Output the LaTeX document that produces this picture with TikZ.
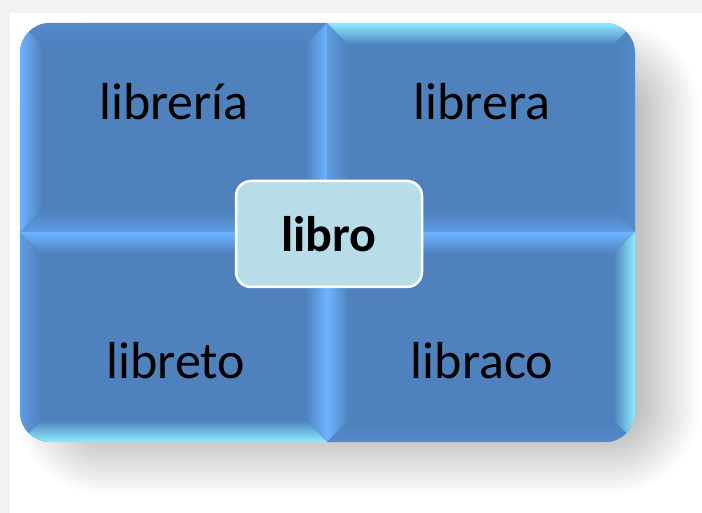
\documentclass[tikz,border=0pt]{standalone}
\usepackage{fontspec}
\setmainfont{Carlito}
\definecolor{base}{HTML}{4F81BD}
\definecolor{bcyan}{HTML}{8EEBFF}
\definecolor{blight}{HTML}{6DB3FF}
\definecolor{bmed}{HTML}{5E9BE2}
\definecolor{bweak}{HTML}{5589CB}
\definecolor{libfill}{HTML}{B7DDE8}
\definecolor{bggray}{HTML}{F2F2F2}
\newcommand\bevq[8]{%
  \fill[base] (#1,#2) rectangle (#3,#4);
  \shade[left color=#5,right color=base] (#1,#2) -- (#1+22,#2+22) -- (#1+22,#4-22) -- (#1,#4) -- cycle;
  \shade[top color=#6,bottom color=base] (#1,#2) -- (#3,#2) -- (#3-22,#2+22) -- (#1+22,#2+22) -- cycle;
  \shade[left color=base,right color=#7] (#3,#2) -- (#3,#4) -- (#3-22,#4-22) -- (#3-22,#2+22) -- cycle;
  \shade[top color=base,bottom color=#8] (#1,#4) -- (#3,#4) -- (#3-22,#4-22) -- (#1+22,#4-22) -- cycle;
}
\tikzset{
  quadlabel/.style={font=\fontsize{52}{62}\selectfont, text=black, inner sep=0pt},
  centerbox/.style={draw=white, line width=2.5pt, fill=libfill, rounded corners=15pt,
     minimum width=186pt, minimum height=106pt, font=\fontsize{50}{60}\selectfont\bfseries, text=black},
  shadowlayer/.style={fill=black, fill opacity=0.0048}
}
\begin{document}
\begin{tikzpicture}[x=1pt,y=-1pt]
\useasboundingbox (0,0) rectangle (702,513);
\fill[bggray] (0,0) rectangle (702,513);
\fill[white] (10,13) rectangle (702,513);
% soft shadow
\foreach \i in {0,...,70}{
  \fill[shadowlayer, rounded corners={20+\i}] (85-\i,90-\i) rectangle (630+\i,425+\i);
}
\begin{scope}
  \clip[rounded corners=30pt] (20,23) rectangle (635,442);
  \bevq{20}{23}{327}{232}{blight}{bweak}{blight}{bmed}
  \bevq{327}{23}{635}{232}{bmed}{bcyan}{bweak}{bmed}
  \bevq{20}{232}{327}{442}{bmed}{blight}{blight}{bcyan}
  \bevq{327}{232}{635}{442}{blight}{blight}{bcyan}{bweak}
\end{scope}
\node[quadlabel] (q1) at (174,102) {librería};
\node[quadlabel] (q2) at (482,102) {librera};
\node[quadlabel] (q3) at (176,361) {libreto};
\node[quadlabel] (q4) at (482,361) {libraco};
\node[centerbox] (c) at (329,234) {libro};
\end{tikzpicture}
\end{document}
